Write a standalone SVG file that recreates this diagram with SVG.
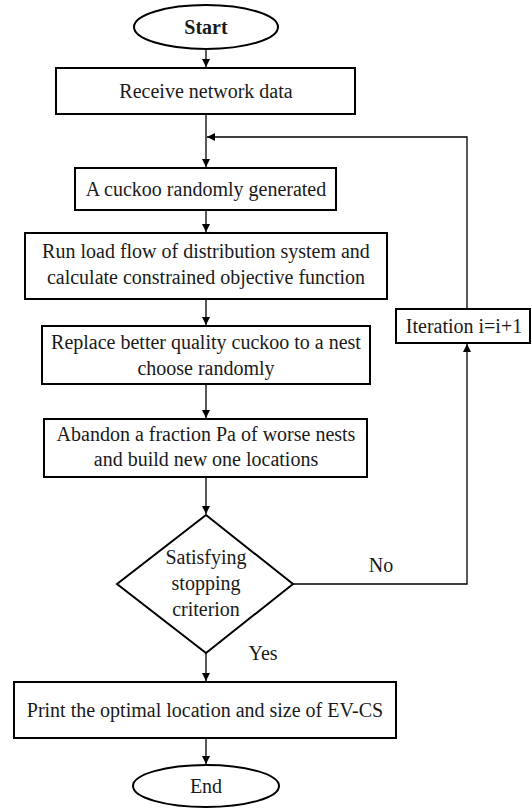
<svg xmlns="http://www.w3.org/2000/svg" width="532" height="812" viewBox="0 0 532 812">
<style>
.box{fill:#fff;stroke:#000;stroke-width:2}
.t{font-family:"Liberation Serif","Times New Roman",serif;font-size:20px;fill:#1a1a1a;text-anchor:middle}
.c{fill:none;stroke:#000;stroke-width:1.3}
</style>
<defs>
<marker id="ah" markerUnits="userSpaceOnUse" markerWidth="9" markerHeight="9" refX="8" refY="4" orient="auto">
<path d="M0,0 L8,4 L0,8 z" fill="#000"/>
</marker>
</defs>
<rect width="532" height="812" fill="#fff"/>
<g id="connectors">
<line class="c" x1="206" y1="49" x2="206" y2="67" marker-end="url(#ah)"/>
<line class="c" x1="206" y1="115" x2="206" y2="167" marker-end="url(#ah)"/>
<polyline class="c" points="467,309 467,137 207,137" marker-end="url(#ah)"/>
<line class="c" x1="206" y1="210" x2="206" y2="232" marker-end="url(#ah)"/>
<line class="c" x1="206" y1="300" x2="206" y2="325" marker-end="url(#ah)"/>
<line class="c" x1="206" y1="384" x2="206" y2="418" marker-end="url(#ah)"/>
<line class="c" x1="206" y1="477" x2="206" y2="514" marker-end="url(#ah)"/>
<polyline class="c" points="293,584 467,584 467,344" marker-end="url(#ah)"/>
<line class="c" x1="206" y1="653" x2="206" y2="681" marker-end="url(#ah)"/>
<line class="c" x1="206" y1="738" x2="206" y2="764" marker-end="url(#ah)"/>
<text class="t" x="381" y="572">No</text>
<text class="t" x="263" y="660">Yes</text>
</g>
<g id="start">
<ellipse class="box" cx="206" cy="27" rx="72" ry="22"/>
<text class="t" x="206" y="34" font-weight="bold">Start</text>
</g>
<g id="receive">
<rect class="box" x="56" y="68" width="299" height="46"/>
<text class="t" x="206" y="98">Receive network data</text>
</g>
<g id="cuckoo">
<rect class="box" x="75" y="168" width="261" height="42"/>
<text class="t" x="206" y="196">A cuckoo randomly generated</text>
</g>
<g id="loadflow">
<rect class="box" x="25" y="233" width="362" height="66"/>
<text class="t" x="206" y="258">Run load flow of distribution system and</text>
<text class="t" x="206" y="284">calculate constrained objective function</text>
</g>
<g id="replace">
<rect class="box" x="42" y="326" width="328" height="58"/>
<text class="t" x="206" y="349">Replace better quality cuckoo to a nest</text>
<text class="t" x="206" y="375">choose randomly</text>
</g>
<g id="abandon">
<rect class="box" x="44" y="419" width="323" height="58"/>
<text class="t" x="206" y="441">Abandon a fraction Pa of worse nests</text>
<text class="t" x="206" y="466">and build new one locations</text>
</g>
<g id="iteration">
<rect class="box" x="396" y="309" width="134" height="34"/>
<text class="t" x="464" y="333">Iteration i=i+1</text>
</g>
<g id="decision">
<polygon class="box" points="206,515 293,584 206,653 117,584"/>
<text class="t" x="206" y="564">Satisfying</text>
<text class="t" x="206" y="590">stopping</text>
<text class="t" x="206" y="616">criterion</text>
</g>
<g id="print">
<rect class="box" x="14" y="682" width="382" height="56"/>
<text class="t" x="205" y="717">Print the optimal location and size of EV-CS</text>
</g>
<g id="end">
<ellipse class="box" cx="206" cy="786" rx="73" ry="21"/>
<text class="t" x="206" y="793">End</text>
</g>
</svg>
